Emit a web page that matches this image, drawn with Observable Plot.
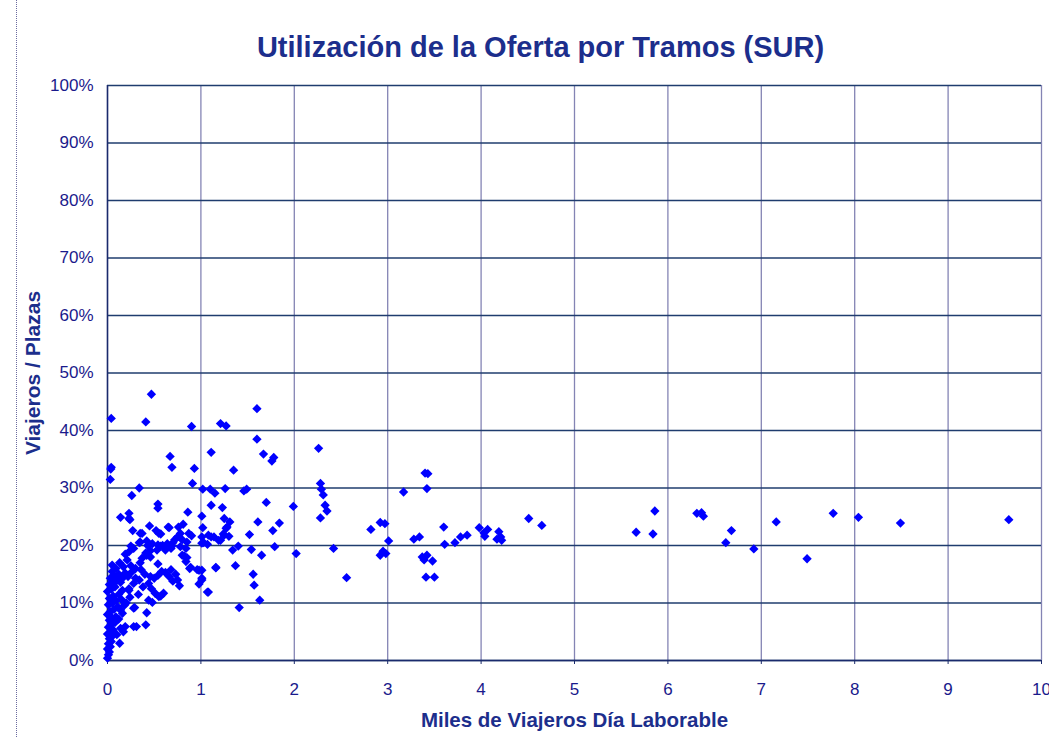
<!DOCTYPE html>
<html><head><meta charset="utf-8">
<script src="https://cdn.jsdelivr.net/npm/d3@7"></script>
<script src="https://cdn.jsdelivr.net/npm/@observablehq/plot@0.6"></script>
<style>
body{margin:0;background:#fff;font-family:"Liberation Sans",Arial,sans-serif;}
#wrap{position:relative;width:1049px;height:737px;overflow:hidden;}
#border{position:absolute;left:16px;top:0;width:0;height:737px;border-left:1px dotted #6a6aa0;}
#title{height:70px;text-align:center;font-weight:bold;font-size:29px;color:#1c2e8c;line-height:29px;box-sizing:border-box;position:relative;}
#title span{position:absolute;left:32px;right:0;top:33px;}
</style></head>
<body><div id="wrap"><div id="border"></div><div id="title"><span>Utilización de la Oferta por Tramos (SUR)</span></div><div id="chart"></div></div>
<script>
// [miles de viajeros, % viajeros/plazas]
const tramosCerca0 = [[0.00,0.4],[0.01,1.0],[0.02,1.5],[0.00,2.0],[0.03,2.4],[0.01,2.9],[0.04,3.3],[0.02,3.8],[0.05,4.2],[0.00,4.6],[0.03,5.0],[0.06,5.3],[0.01,5.8],[0.04,6.2],[0.08,6.6],[0.02,7.0],[0.05,7.4],[0.09,7.6],[0.00,8.0],[0.03,8.5],[0.07,8.9],[0.11,9.3],[0.01,9.7],[0.05,10.0],[0.09,10.4],[0.02,10.8],[0.06,11.2],[0.12,11.5],[0.00,12.0],[0.04,12.4],[0.08,12.8],[0.02,13.2],[0.06,13.6],[0.10,13.9],[0.03,14.3],[0.07,14.7],[0.12,15.0],[0.05,15.5],[0.09,16.0],[0.05,16.6],[0.13,3.0],[0.10,4.5],[0.14,5.6],[0.17,5.0],[0.12,7.2],[0.16,8.2],[0.14,8.8],[0.15,10.6],[0.18,9.6],[0.16,12.2],[0.14,13.6],[0.16,14.3],[0.13,17.0],[0.17,16.3],[0.19,15.2]];
const tramosBajos = [[0.28,5.9],[0.41,6.2],[0.31,5.9],[0.19,5.9],[0.28,9.1],[0.42,8.3],[0.29,9.2],[0.23,12.5],[0.28,13.4],[0.23,12.2],[0.26,15.4],[0.30,14.3],[0.34,14.0],[0.44,13.4],[0.47,12.5],[0.51,11.7],[0.55,11.1],[0.60,11.7],[0.44,10.5],[0.48,10.1],[0.57,11.2],[0.62,15.3],[0.73,15.0],[0.75,14.0],[0.77,13.0],[0.98,15.7],[1.01,14.0],[0.98,13.3],[1.08,11.9],[1.16,16.2],[0.24,11.0],[0.20,10.0],[0.33,11.5],[0.38,12.8],[0.40,15.0],[0.36,15.8],[0.46,14.6],[0.50,14.3],[0.54,14.8],[0.58,15.5],[0.66,14.6],[0.70,13.8],[0.68,15.8],[0.22,14.6],[0.25,16.5],[0.30,16.0],[0.35,17.0],[0.21,17.5]];
const tramosMedios = [[0.54,16.8],[0.82,18.2],[0.84,17.2],[0.88,16.0],[0.96,15.8],[0.89,16.2],[0.19,18.5],[0.23,18.9],[0.28,19.5],[0.25,19.9],[0.41,18.7],[0.46,19.1],[0.53,19.2],[0.42,18.3],[0.46,18.0],[0.37,17.8],[0.62,19.2],[0.68,19.5],[0.57,19.9],[0.69,19.9],[0.78,19.8],[0.84,19.5],[0.80,18.3],[0.85,17.9],[0.43,20.0],[0.48,20.3],[0.54,20.1],[0.59,20.0],[0.64,20.3],[0.70,20.5],[0.34,20.5],[0.42,20.8],[0.35,20.6],[0.27,22.6],[0.35,22.1],[0.37,22.1],[0.52,22.6],[0.55,22.1],[0.57,22.0],[0.76,23.2],[0.81,23.7],[0.87,22.1],[0.78,22.1],[0.75,21.5],[0.72,21.0],[0.80,21.0],[0.85,20.6],[0.90,21.7],[0.45,23.4],[0.65,23.2],[0.66,23.1],[1.02,23.1],[1.01,21.5],[1.01,20.4],[1.11,21.5],[1.19,20.9],[0.23,24.7],[0.14,24.9],[0.23,25.6],[0.24,24.5]];
const tramosAltos = [[0.86,25.8],[1.01,25.1],[0.54,27.2],[0.54,26.5],[1.11,27.0],[0.26,28.7],[0.34,30.0],[0.91,30.8],[1.02,29.8],[1.10,29.8],[1.15,29.1],[0.03,31.5],[0.035,33.3],[0.04,33.6],[0.69,33.6],[0.93,33.4],[0.67,35.5],[1.11,36.2],[0.04,42.1],[0.41,41.5],[0.47,46.3],[0.90,40.7],[1.21,41.2],[1.27,40.8]];
const tramos1a2 = [[1.60,43.8],[1.60,38.5],[1.67,35.9],[1.78,35.3],[1.76,34.7],[1.35,33.1],[1.26,29.9],[1.46,29.5],[1.49,29.8],[1.23,26.6],[1.70,27.5],[1.99,26.8],[1.25,24.7],[1.31,24.1],[1.28,23.2],[1.61,24.1],[1.84,23.9],[1.77,22.6],[1.08,21.8],[1.14,21.5],[1.21,20.9],[1.25,21.8],[1.30,21.6],[1.03,20.5],[1.07,20.2],[1.52,21.9],[1.34,19.2],[1.40,19.9],[1.54,19.3],[1.65,18.3],[1.79,19.8],[2.02,18.6],[1.16,16.1],[1.37,16.5],[1.56,15.0],[1.57,13.1],[1.01,15.7],[1.01,14.3],[1.07,11.9],[1.63,10.5],[1.41,9.2],[1.27,23.0],[1.24,22.0]];
const tramos2a5 = [[2.26,36.9],[2.28,30.8],[2.29,29.8],[2.31,28.8],[2.33,27.0],[2.35,26.0],[2.28,24.8],[2.42,19.5],[2.56,14.4],[2.82,22.8],[2.92,24.0],[2.97,23.8],[3.01,20.8],[2.92,18.3],[2.98,18.6],[2.95,19.0],[3.17,29.3],[3.40,32.6],[3.43,32.5],[3.42,29.9],[3.28,21.1],[3.34,21.5],[3.37,18.0],[3.42,18.3],[3.48,17.3],[3.39,17.5],[3.41,14.5],[3.50,14.5],[3.60,23.2],[3.61,20.2],[3.72,20.5],[3.78,21.5],[3.85,21.8],[3.98,23.1],[4.03,22.2],[4.07,22.8],[4.04,21.6],[4.19,22.4],[4.17,21.1],[4.22,20.9],[4.21,21.5],[4.51,24.7],[4.65,23.5]];
const tramosMas5 = [[5.86,26.0],[5.66,22.3],[5.84,22.0],[6.31,25.6],[6.36,25.7],[6.38,25.1],[6.68,22.6],[6.62,20.5],[6.92,19.4],[7.16,24.1],[7.49,17.7],[7.77,25.6],[8.04,24.9],[8.49,23.9],[9.65,24.5]];
const xTicks = [0,1,2,3,4,5,6,7,8,9,10];
const yTicks = [0,10,20,30,40,50,60,70,80,90,100];
const xLabel = "Miles de Viajeros Día Laborable";
const yLabel = "Viajeros / Plazas";

const data = [...tramosCerca0, ...tramosBajos, ...tramosMedios, ...tramosAltos, ...tramos1a2, ...tramos2a5, ...tramosMas5].map(([x,y]) => ({x, y}));
const navy = "#1a2a6c";
const chart = Plot.plot({
  width: 1049, height: 667,
  marginTop: 15, marginBottom: 77, marginLeft: 107, marginRight: 8,
  style: {fontFamily: "'Liberation Sans', Arial, sans-serif", fontSize: "17px", color: "#1a1a8c", background: "white", overflow: "visible"},
  x: {domain: [0, 10], label: null},
  y: {domain: [0, 100], label: null},
  marks: [
    Plot.gridX(xTicks, {stroke: "#8484b4", strokeOpacity: 1, strokeWidth: 1.3}),
    Plot.gridY(yTicks, {stroke: "#1f3c6e", strokeOpacity: 1, strokeWidth: 1.3}),
    Plot.ruleX([0], {stroke: navy, strokeWidth: 1.5}),
    Plot.ruleY([0], {stroke: navy, strokeWidth: 1.5}),
    Plot.axisX(xTicks, {tickSize: 4, tickPadding: 18, stroke: navy, fill: "#1a1a8c", fontSize: 17, tickFormat: d => String(d)}),
    Plot.axisY(yTicks, {tickSize: 0, tickPadding: 14, fill: "#1a1a8c", fontSize: 17, tickFormat: d => d + "%"}),
    Plot.dot(data, {x: "x", y: "y", symbol: "diamond2", r: 4.2, fill: "#0000ff", stroke: "none"}),
    Plot.text([xLabel], {frameAnchor: "bottom", dy: 60, text: d => d, fontWeight: "bold", fontSize: 20.5, fill: "#1c2e8c", lineAnchor: "middle"}),
    Plot.text([yLabel], {frameAnchor: "left", dx: -74, rotate: -90, text: d => d, fontWeight: "bold", fontSize: 21, fill: "#1c2e8c", textAnchor: "middle"})
  ]
});
document.getElementById("chart").appendChild(chart);
</script></body></html>
